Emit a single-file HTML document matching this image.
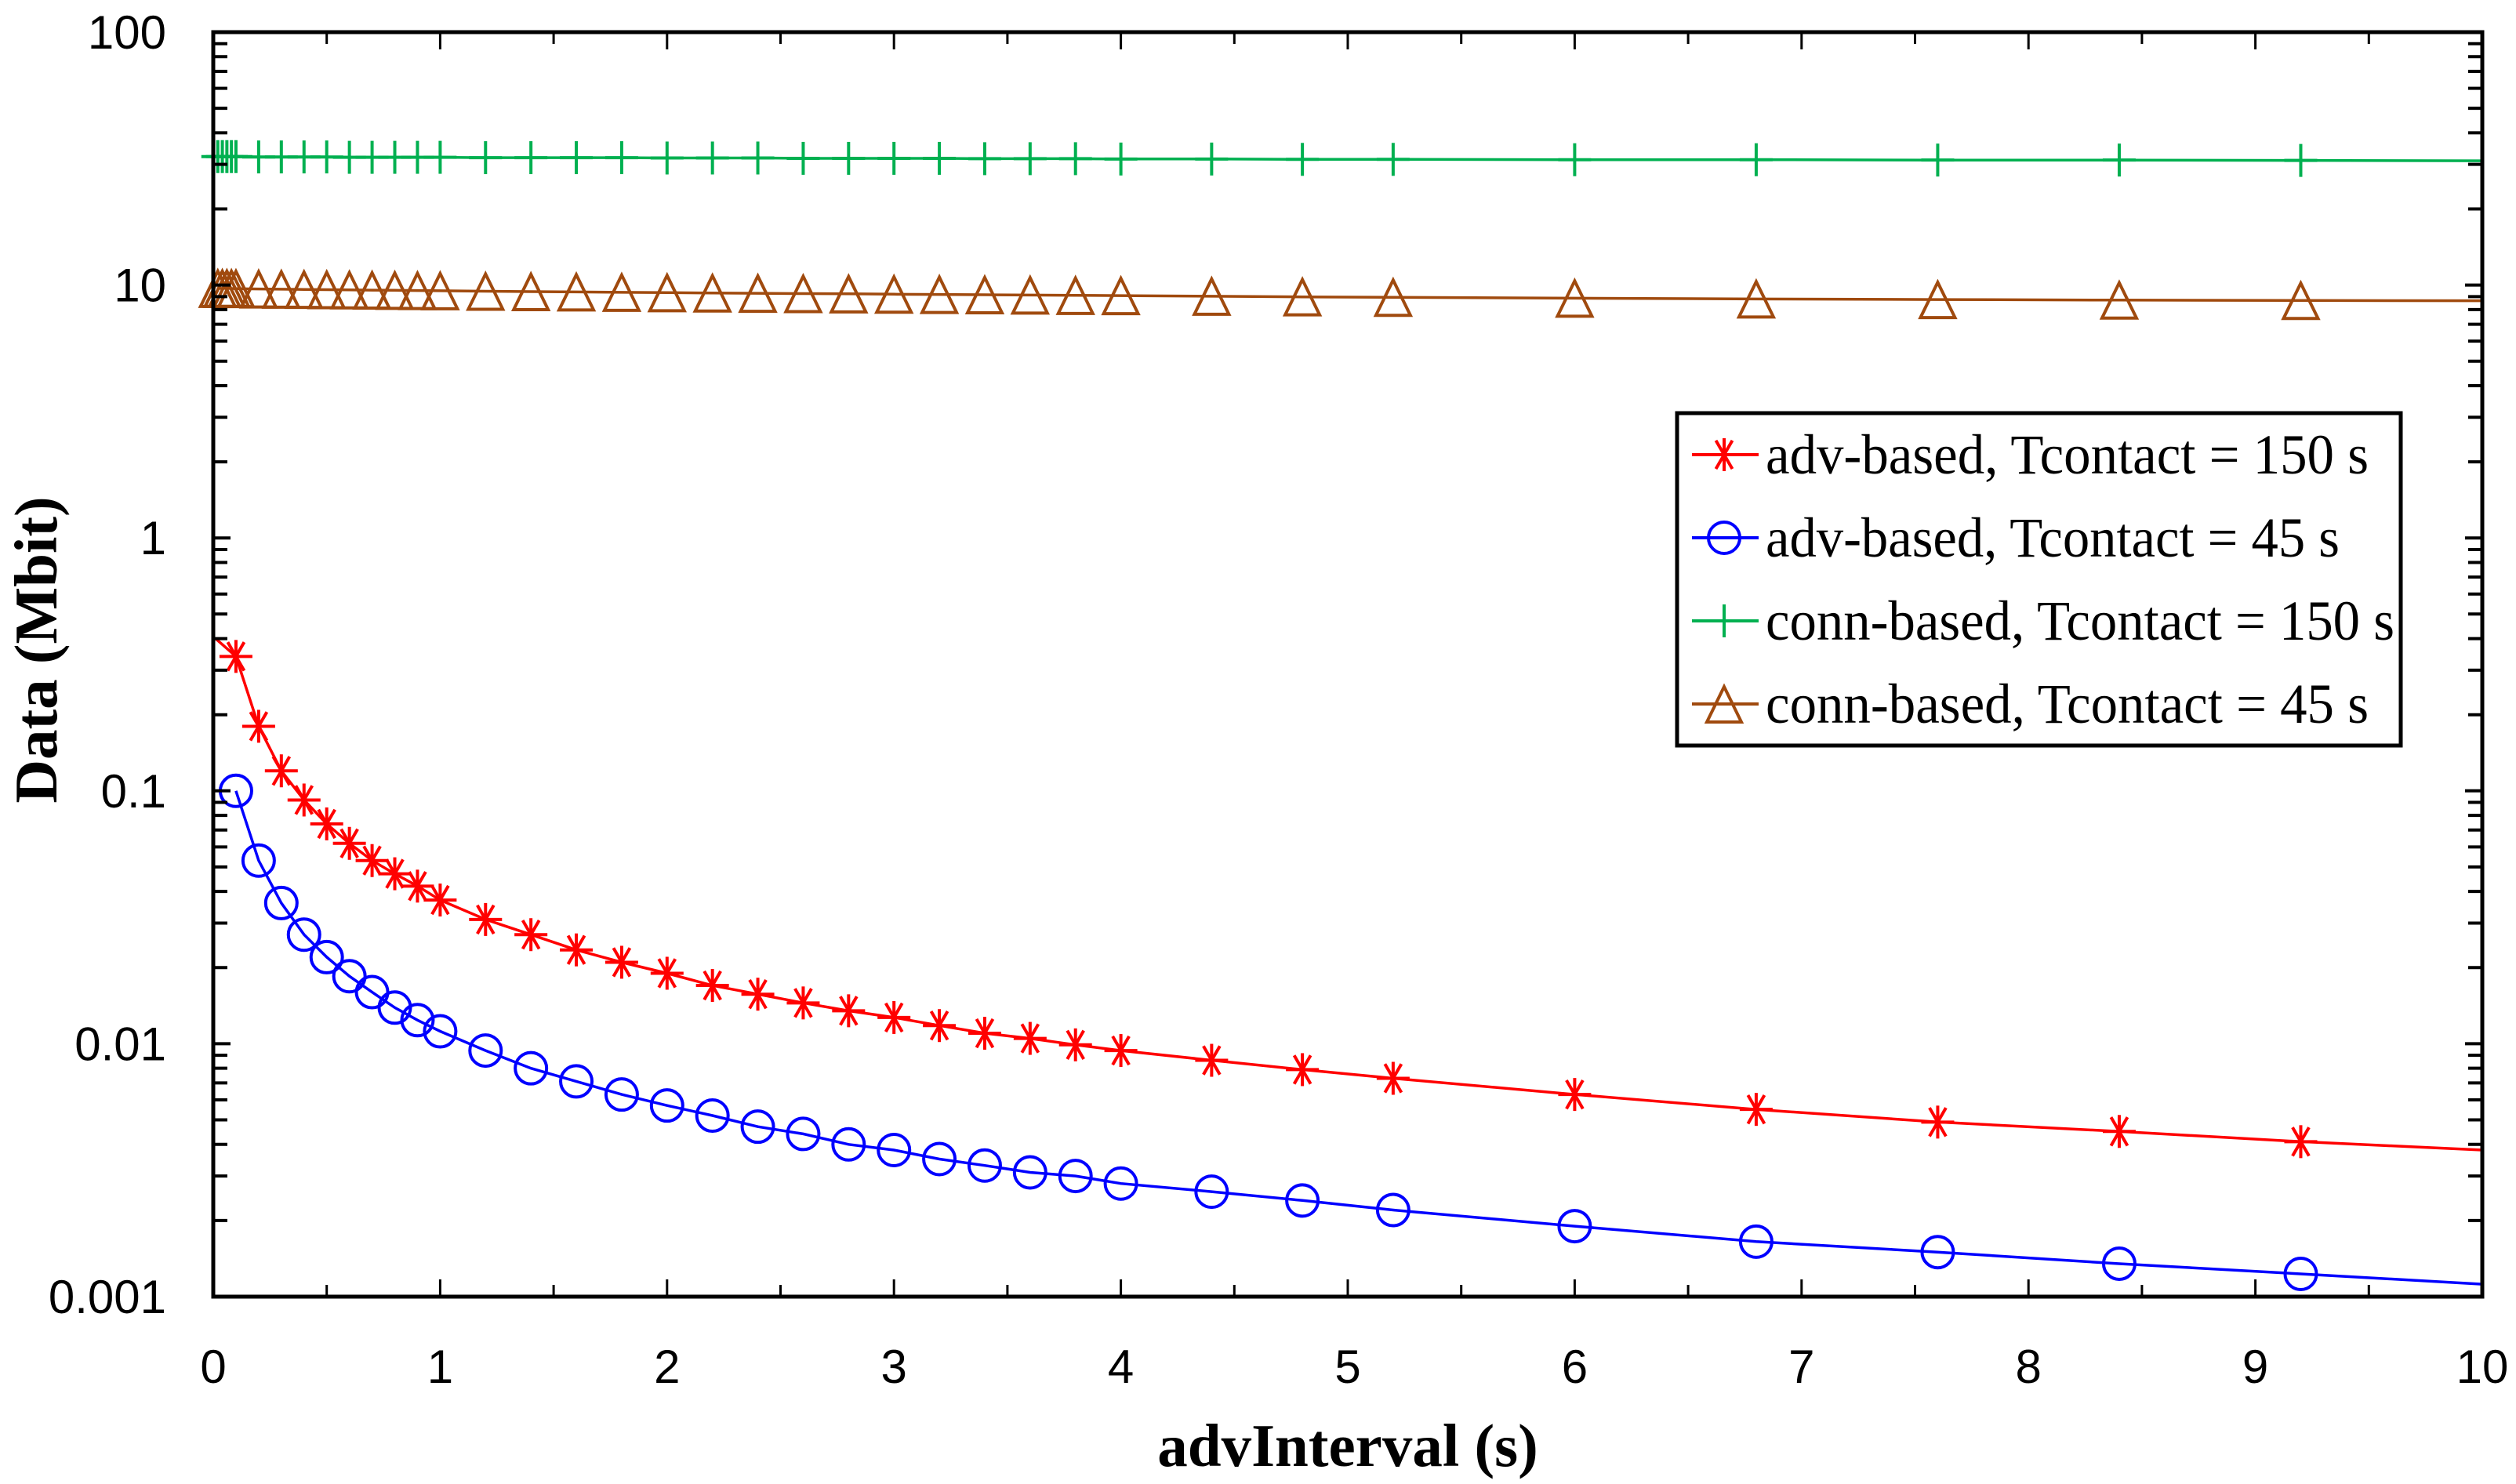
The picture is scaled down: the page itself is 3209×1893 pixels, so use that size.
<!DOCTYPE html>
<html><head><meta charset="utf-8">
<style>
html,body{margin:0;padding:0;background:#fff;}
svg{display:block;}
</style></head>
<body>
<svg id="chart" width="3209" height="1893" viewBox="0 0 3209 1893" xmlns="http://www.w3.org/2000/svg">
<rect x="0" y="0" width="3209" height="1893" fill="#fff"/>
<g id="marks"></g>
<g id="axes"></g>
</svg>
<script>
const xTicks = [0,1,2,3,4,5,6,7,8,9,10];
const yTicks = [0.001,0.01,0.1,1,10,100];
const yTickLabels = ["0.001","0.01","0.1","1","10","100"];
const markerX = [0.1,0.2,0.3,0.4,0.5,0.6,0.7,0.8,0.9,1.0,1.2,1.4,1.6,1.8,2.0,2.2,2.4,2.6,2.8,3.0,3.2,3.4,3.6,3.8,4.0,4.4,4.8,5.2,6.0,6.8,7.6,8.4,9.2];
const advLong = [0.34,0.18,0.12,0.092,0.074,0.062,0.053,0.047,0.042,0.037,0.031,0.027,0.0235,0.021,0.019,0.017,0.0157,0.0145,0.0135,0.0127,0.0118,0.011,0.0105,0.0099,0.0094,0.0086,0.0079,0.0073,0.0063,0.0055,0.0049,0.0045,0.0041];
const advShort = [0.1,0.053,0.036,0.027,0.022,0.0185,0.016,0.0139,0.0124,0.0112,0.0094,0.008,0.0071,0.0063,0.0057,0.0052,0.0047,0.0044,0.004,0.0038,0.0035,0.0033,0.0031,0.003,0.0028,0.0026,0.0024,0.0022,0.0019,0.00165,0.0015,0.00135,0.00123];
const connLongX = [0.02,0.04,0.06,0.08,0.1,0.2,0.3,0.4,0.5,0.6,0.7,0.8,0.9,1.0,1.2,1.4,1.6,1.8,2.0,2.2,2.4,2.6,2.8,3.0,3.2,3.4,3.6,3.8,4.0,4.4,4.8,5.2,6.0,6.8,7.6,8.4,9.2];
const connLong = [32.2,32.2,32.2,32.2,32.2,32.1,32.1,32.1,32.1,32.0,32.0,32.0,32.0,32.0,31.9,31.9,31.9,31.9,31.8,31.8,31.8,31.7,31.7,31.7,31.7,31.6,31.6,31.6,31.5,31.5,31.4,31.4,31.3,31.3,31.2,31.2,31.1];
const connShort = [9.7,9.7,9.7,9.69,9.68,9.65,9.63,9.61,9.59,9.57,9.55,9.53,9.51,9.49,9.45,9.42,9.39,9.36,9.33,9.3,9.28,9.25,9.23,9.2,9.18,9.15,9.13,9.1,9.08,9.03,8.98,8.94,8.87,8.81,8.76,8.72,8.69];
const advLongStart = [0.01,0.4];
const advLongEnd = [10,0.0038];
const advShortEnd = [10,0.00112];
const connLongEnd = [10,31.0];
const connShortEnd = [10,8.67];

const L=272,R=3166,T=41,B=1654;
const xScale = v => L + (v-0)/(10-0)*(R-L);
const yScale = v => B - (Math.log10(v)-(-3))/5*(B-T);
const NS="http://www.w3.org/2000/svg";
const marks=document.getElementById('marks'), axes=document.getElementById('axes');
function mk(tag, attrs, parent){const e=document.createElementNS(NS,tag);for(const k in attrs)e.setAttribute(k,attrs[k]);parent.appendChild(e);return e;}

function drawMarker(type,cx,cy,color,g){
  if(type==='star'){
    const r=21;
    mk('line',{x1:cx-r,y1:cy,x2:cx+r,y2:cy,stroke:color,'stroke-width':4},g);
    mk('line',{x1:cx,y1:cy-r,x2:cx,y2:cy+r,stroke:color,'stroke-width':4},g);
    for(const a of [60,120]){const rad=a*Math.PI/180;
      mk('line',{x1:cx-r*Math.cos(rad),y1:cy-r*Math.sin(rad),x2:cx+r*Math.cos(rad),y2:cy+r*Math.sin(rad),stroke:color,'stroke-width':4},g);}
  } else if(type==='circle'){
    mk('circle',{cx:cx,cy:cy,r:20,fill:'none',stroke:color,'stroke-width':4},g);
  } else if(type==='plus'){
    mk('line',{x1:cx,y1:cy-21,x2:cx,y2:cy+21,stroke:color,'stroke-width':4},g);
    mk('line',{x1:cx-21,y1:cy,x2:cx+21,y2:cy,stroke:color,'stroke-width':4},g);
  } else if(type==='tri'){
    mk('polygon',{points:`${cx},${cy-22} ${cx-22},${cy+23} ${cx+22},${cy+23}`,fill:'none',stroke:color,'stroke-width':4},g);
  }
}

function series(name,xs,ys,start,end,color,type){
  const g=mk('g',{},marks);
  
  
  let pts=[];
  if(start) pts.push([start[0],start[1]]);
  xs.forEach((x,i)=>pts.push([x,ys[i]]));
  if(end) pts.push([end[0],end[1]]);
  const line=mk('polyline',{points:pts.map(p=>xScale(p[0]).toFixed(1)+','+yScale(p[1]).toFixed(1)).join(' '),fill:'none',stroke:color,'stroke-width':3.5},g);
  
  
  xs.forEach((x,i)=>{
    const mg=mk('g',{},g);
    
    
    drawMarker(type,xScale(x),yScale(ys[i]),color,mg);
  });
}
series('conn-based-150-series',connLongX,connLong,null,connLongEnd,'#00b050','plus');
series('conn-based-45-series',connLongX,connShort,null,connShortEnd,'#a04a0e','tri');
series('adv-based-150-series',markerX,advLong,advLongStart,advLongEnd,'#ff0000','star');
series('adv-based-45-series',markerX,advShort,null,advShortEnd,'#0000ff','circle');

const frame=mk('rect',{x:L,y:T,width:R-L,height:B-T,fill:'none',stroke:'#000','stroke-width':5},axes);


xTicks.forEach((v,i)=>{
  const x=xScale(v);
  mk('line',{x1:x,y1:B,x2:x,y2:B-22,stroke:'#000','stroke-width':3},axes);
  mk('line',{x1:x,y1:T,x2:x,y2:T+22,stroke:'#000','stroke-width':3},axes);
  if(i<xTicks.length-1){const xm=xScale(v+0.5);
    mk('line',{x1:xm,y1:B,x2:xm,y2:B-15,stroke:'#000','stroke-width':3},axes);
    mk('line',{x1:xm,y1:T,x2:xm,y2:T+15,stroke:'#000','stroke-width':3},axes);}
  const t=mk('text',{x:x,y:B+110,'text-anchor':'middle','font-family':'Liberation Sans, sans-serif','font-size':60,fill:'#000'},axes);
  t.textContent=String(v);
  
  
});
yTicks.forEach((v,i)=>{
  const y=yScale(v);
  mk('line',{x1:L,y1:y,x2:L+22,y2:y,stroke:'#000','stroke-width':4},axes);
  mk('line',{x1:R,y1:y,x2:R-22,y2:y,stroke:'#000','stroke-width':4},axes);
  if(i<yTicks.length-1){for(let m=2;m<=9;m++){const ym=yScale(v*m);
    mk('line',{x1:L,y1:ym,x2:L+18,y2:ym,stroke:'#000','stroke-width':4},axes);
    mk('line',{x1:R,y1:ym,x2:R-18,y2:ym,stroke:'#000','stroke-width':4},axes);}}
  const t=mk('text',{x:212,y:y+21,'text-anchor':'end','font-family':'Liberation Sans, sans-serif','font-size':60,fill:'#000'},axes);
  t.textContent=yTickLabels[i];
  
  
});
const xt=mk('text',{x:1719,y:1870,'text-anchor':'middle','font-family':'Liberation Serif, serif','font-weight':'bold','font-size':77,fill:'#000'},axes);
xt.textContent='advInterval (s)';


const yt=mk('text',{x:0,y:0,transform:'translate(72,829) rotate(-90)','text-anchor':'middle','font-family':'Liberation Serif, serif','font-weight':'bold','font-size':77,fill:'#000'},axes);
yt.textContent='Data (Mbit)';



const lg=mk('g',{},axes);


mk('rect',{x:2139,y:527,width:923,height:424,fill:'#fff',stroke:'#000','stroke-width':5},lg);
const legItems=[['adv-based, Tcontact = 150 s','#ff0000','star',769],['adv-based, Tcontact = 45 s','#0000ff','circle',732],['conn-based, Tcontact = 150 s','#00b050','plus',802],['conn-based, Tcontact = 45 s','#a04a0e','tri',769]];
const legY=[580,686,792,898];
legItems.forEach((it,i)=>{
  const g=mk('g',{},lg);
  
  
  const y=legY[i];
  mk('line',{x1:2158,y1:y,x2:2243,y2:y,stroke:it[1],'stroke-width':4},g);
  drawMarker(it[2],2199,y,it[1],g);
  const t=mk('text',{x:2252,y:y+24,'font-family':'Liberation Serif, serif','font-size':72,fill:'#000',textLength:it[3],lengthAdjust:'spacingAndGlyphs'},g);
  t.textContent=it[0];
});
</script>
</body></html>
